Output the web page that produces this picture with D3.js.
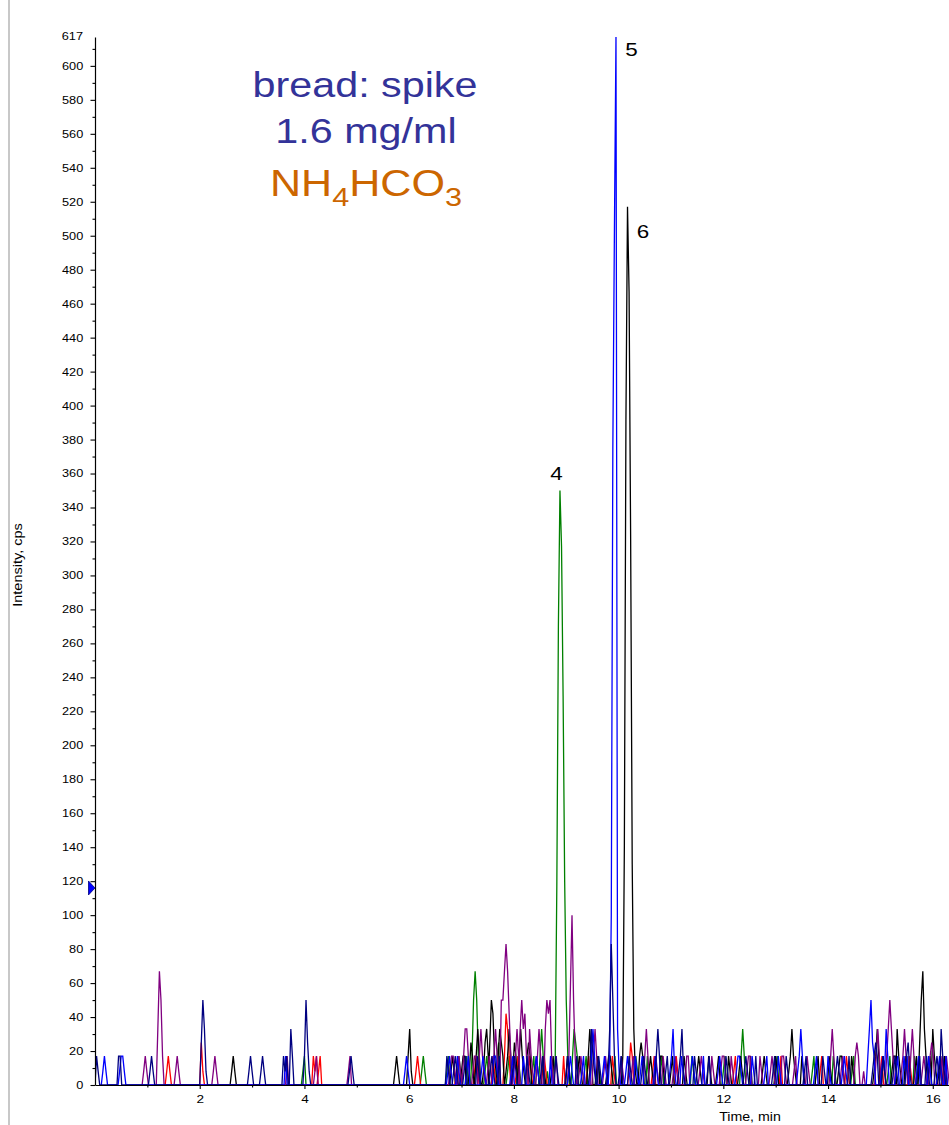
<!DOCTYPE html>
<html>
<head>
<meta charset="utf-8">
<script src="https://cdn.jsdelivr.net/npm/d3@7"></script>
<style>
  html, body { margin: 0; padding: 0; background: #ffffff; }
  svg { display: block; }
</style>
</head>
<body>
<svg id="chart" width="949" height="1125"></svg>
<script>
// ---------------------------------------------------------------
// Overlaid MRM ion chromatograms (intensity in cps vs time in min).
// Each trace is a list of runs: [start time, [consecutive samples]].
// Samples are one scan cycle apart; outside the runs a trace sits at 0.
// ---------------------------------------------------------------
const SCAN_STEP = 0.03; // min between consecutive samples

const traceNavy = [
  [0.03, [17, 8]], [0.45, [17, 17]], [1.05, [8, 17, 8]], [2.03, [25, 50, 33, 8]],
  [2.94, [8, 17, 8]], [3.17, [8, 17, 8]], [3.60, [17, 8, 17]], [3.74, [33, 17]],
  [4.00, [17, 50, 25, 8]], [4.86, [8, 17, 8]],
  [6.72, [17, 8]], [6.85, [8, 17, 8]], [7.05, [8, 17]], [7.30, [17, 8]], [7.55, [8, 17, 8]],
  [7.72, [17]], [7.98, [8, 17, 8]], [8.25, [17, 8]], [8.52, [8, 17]], [8.80, [17, 8]],
  [9.00, [8, 17, 8]], [9.20, [17]], [9.45, [8, 33, 17, 8]], [9.62, [17, 8]],
  [9.80, [8, 33, 83, 50, 17]], [10.02, [8, 17]], [10.20, [17, 8]], [10.45, [8, 17, 8]],
  [10.72, [17, 33, 17]], [10.90, [8, 17]], [11.15, [8, 17, 33, 8]], [11.45, [17, 8]],
  [11.70, [8, 17]], [12.05, [17, 8]], [12.40, [8, 17, 8]], [12.62, [17]], [12.95, [8, 17]],
  [13.20, [17, 8]], [13.55, [8, 17]], [13.90, [17, 8]], [14.15, [8, 17, 8]], [14.40, [17]],
  [14.85, [8, 17, 25, 17]], [15.05, [17, 8]], [15.25, [8, 17, 8]], [15.50, [17, 25, 8]],
  [15.72, [8, 17]], [15.88, [17, 8]], [16.05, [8, 17, 8]], [16.16, [33, 17, 8]]
];

const traceBlue = [
  [0.15, [8, 17, 8]], [0.47, [8, 17, 17, 8]], [3.64, [17]], [5.92, [8, 17, 8]],
  [6.74, [8, 17, 8]], [6.92, [17, 8]], [7.10, [8, 17]], [7.38, [8, 17, 8]], [7.62, [17, 17, 8]],
  [7.95, [8, 17]], [8.18, [17, 8]], [8.40, [8, 17, 8]], [8.70, [17]], [9.05, [8, 17, 8]],
  [9.30, [8, 17]], [9.48, [17, 33, 17]], [9.70, [8, 17, 8]],
  [9.83, [17, 100, 375, 503, 617, 33, 8]],
  [10.14, [8, 17, 8]], [10.32, [17, 8]], [10.42, [8, 17]], [10.70, [17, 8]],
  [10.98, [8, 17, 33, 8]], [11.20, [17, 8]], [11.38, [8, 17, 8]], [11.62, [17]],
  [11.90, [8, 17, 8]], [12.25, [8, 17, 17, 8]], [12.55, [17, 8]], [12.80, [8, 17]],
  [13.05, [17, 8]], [13.42, [8, 17, 33, 17]], [13.75, [8, 17]], [14.00, [17, 8]],
  [14.28, [8, 17, 8]], [14.76, [17, 33, 50, 25, 17]], [15.02, [8, 17, 8, 33, 17]],
  [15.30, [8, 17]], [15.45, [17, 8, 17]], [15.70, [8, 17]], [15.92, [17, 8]],
  [16.10, [8, 17, 8]], [16.25, [17]]
];

const tracePurple = [
  [0.93, [8, 17, 8]], [1.20, [33, 67, 50, 17]], [1.54, [8, 17, 8]], [2.26, [8, 17, 8]],
  [3.67, [17]], [4.20, [8, 17]], [4.84, [8, 17]],
  [6.78, [8, 17, 17, 8]], [6.95, [17, 8]], [7.04, [17, 33, 33, 17]], [7.22, [8, 17, 17]],
  [7.34, [17, 33, 17, 8]], [7.50, [8, 17, 8]], [7.62, [17, 33, 17]],
  [7.76, [50, 50, 67, 83, 67, 42, 17]], [8.00, [8, 17, 33, 17]], [8.12, [33, 50, 33, 42, 17]],
  [8.30, [33, 17, 8]], [8.45, [17, 33, 17]], [8.60, [33, 50, 42, 50, 17]], [8.78, [8, 17]],
  [9.05, [17, 58, 100, 50, 17]], [9.25, [8, 17, 8]], [9.52, [17, 33, 17]], [9.72, [8, 17, 8]],
  [10.05, [17, 8]], [10.25, [8, 17]], [10.50, [17, 33, 17]], [10.68, [8, 17, 8]],
  [10.85, [17, 8]], [11.05, [8, 17, 8]], [11.30, [17, 17]], [11.55, [8, 17, 8]],
  [11.78, [17, 8]], [11.95, [8, 17, 17, 8]], [12.15, [17, 8]], [12.45, [8, 17, 17]],
  [12.70, [17, 8]], [12.90, [8, 17, 8]], [13.12, [17, 17, 8]], [13.35, [8, 17]],
  [13.60, [17, 8]], [14.05, [17, 33, 17]], [14.25, [8, 17]], [14.52, [17, 25, 17]],
  [14.68, [8]], [14.92, [17, 33, 17]], [15.12, [17, 33, 50, 33, 17]], [15.40, [8, 17, 33, 17]],
  [15.58, [17, 33, 17]], [15.80, [8, 17, 8]], [15.95, [17, 25, 17]], [16.15, [8, 17]],
  [16.26, [17, 8]]
];

const traceRed = [
  [1.37, [8, 17, 8]], [2.03, [25, 8]], [4.17, [17, 8, 17]], [4.27, [8, 17]], [6.13, [8, 17, 8]],
  [6.90, [8, 17]], [7.25, [8, 17, 8]], [7.60, [17, 8]], [7.82, [17, 42, 33, 17]],
  [8.05, [8, 17]], [8.30, [17, 8]], [8.55, [8, 17, 8]], [8.95, [17]], [9.40, [8, 17]],
  [9.88, [17, 8]], [10.20, [8, 25, 17]], [10.65, [8, 17]], [11.10, [17, 8]], [12.20, [8, 17]],
  [13.10, [17]], [13.85, [8, 17]], [14.35, [17, 8]], [15.00, [8, 17]], [15.55, [17, 8]],
  [16.20, [8, 17]]
];

const traceGreen = [
  [3.97, [8, 17]], [6.24, [8, 17, 8]],
  [6.72, [8, 17]], [6.92, [8, 17, 8]], [7.10, [17]], [7.20, [17, 50, 67, 50, 17]],
  [7.45, [8, 17, 8]], [7.68, [17, 25]], [7.88, [8, 17, 8]], [8.08, [17, 8]], [8.35, [8, 17]],
  [8.50, [17, 33, 17]], [8.64, [8]],
  [8.79, [17, 117, 270, 350, 317, 229, 120, 50, 17]],
  [9.12, [17, 33, 25, 17]], [9.35, [8, 17]], [9.60, [17, 8]], [9.90, [8, 17]],
  [10.30, [8, 17, 8]], [10.55, [17]], [10.80, [8, 17]], [11.40, [17, 8]], [12.00, [8, 17]],
  [12.34, [17, 33, 17]], [13.00, [8, 17]], [13.70, [8, 17]], [14.10, [17, 8]],
  [14.46, [8, 17]], [15.15, [8, 17]], [15.65, [17, 8]]
];

const traceBlack = [
  [2.61, [8, 17, 8]], [5.73, [8, 17, 8]], [5.98, [17, 33, 8]],
  [6.80, [8, 17, 8]], [7.00, [8, 17, 17]], [7.15, [8, 25, 17]], [7.28, [17, 33, 17]],
  [7.42, [8, 25, 33, 17]], [7.54, [25, 50, 42, 17, 8]], [7.70, [17, 33, 25, 17]],
  [7.85, [8, 17, 33, 17]], [7.98, [8, 25, 17]], [8.10, [17, 33, 17, 8]], [8.25, [17, 25, 17]],
  [8.40, [8, 17, 8]], [8.55, [17, 8]], [8.72, [8, 17]], [9.02, [17, 8]], [9.22, [8, 17, 8]],
  [9.42, [17, 33, 17]], [9.58, [8, 17]], [9.78, [8, 17, 17, 8]],
  [10.08, [17, 141, 392, 517, 467, 321, 130, 33, 8]],
  [10.40, [17, 25, 17]], [10.58, [8, 17, 8]], [10.80, [17, 17, 8]], [11.00, [8, 17]],
  [11.25, [17, 8]], [11.50, [8, 17, 8]], [11.72, [17, 8]], [11.88, [8, 17]], [12.10, [17, 8]],
  [12.30, [8, 17, 8]], [12.52, [17]], [12.75, [8, 17, 8]], [13.00, [17, 8]],
  [13.25, [8, 17, 33, 17, 8]], [13.50, [17, 8]], [13.78, [8, 17]], [14.02, [17, 8]],
  [14.20, [8, 17, 17, 8]], [14.45, [17, 8]], [14.88, [8, 17, 33, 17]], [15.05, [17, 8]],
  [15.22, [8, 17, 17]], [15.32, [33, 17, 8]], [15.48, [17, 8]], [15.66, [8, 17]],
  [15.75, [25, 50, 67, 33, 17]], [15.92, [8, 17]], [16.00, [33, 17, 8]], [16.12, [8, 17]],
  [16.22, [17, 8]]
];

// drawing order: later traces sit on top
const traces = [
  { runs: traceGreen,  color: "#008000" },
  { runs: traceRed,    color: "#ff0000" },
  { runs: traceBlack,  color: "#000000" },
  { runs: tracePurple, color: "#800080" },
  { runs: traceBlue,   color: "#0000ff" },
  { runs: traceNavy,   color: "#000080" }
];

// peak labels: [peak number, retention time, apex intensity]
const peakLabels = [
  ["4", 8.88, 350],
  ["5", 9.95, 617],
  ["6", 10.17, 517]
];

const yMajorTicks = [0, 20, 40, 60, 80, 100, 120, 140, 160, 180, 200, 220, 240, 260, 280, 300,
  320, 340, 360, 380, 400, 420, 440, 460, 480, 500, 520, 540, 560, 580, 600];
const yMinorTicks = [10, 30, 50, 70, 90, 110, 130, 150, 170, 190, 210, 230, 250, 270, 290, 310,
  330, 350, 370, 390, 410, 430, 450, 470, 490, 510, 530, 550, 570, 590, 610];
const xMajorTicks = [2, 4, 6, 8, 10, 12, 14, 16];
const xMinorTicks = [1, 3, 5, 7, 9, 11, 13, 15];
const yMax = 617;
const xMax = 16.31;
const thresholdMarker = 116; // cps, arrow on the intensity axis

// ---------------------------------------------------------------
const FONT = "'Liberation Sans', Arial, Helvetica, sans-serif";
const STRETCH = 1.18; // glyphs are drawn a little wide

const svg = d3.select("#chart");
const plot = { left: 95, right: 949, top: 37, bottom: 1085 };

const x = d3.scaleLinear().domain([0, xMax]).range([plot.left, plot.right]);
const y = d3.scaleLinear().domain([0, yMax]).range([plot.bottom, plot.top]);

// window frame edge on the left
svg.append("line")
  .attr("x1", 9).attr("x2", 9).attr("y1", 0).attr("y2", 1125)
  .attr("stroke", "#c8c8c8").attr("stroke-width", 2);

svg.append("clipPath").attr("id", "plotClip")
  .append("rect")
  .attr("x", plot.left).attr("y", plot.top - 1)
  .attr("width", plot.right - plot.left).attr("height", plot.bottom - plot.top + 2);

// expand runs into a polyline resting on the baseline between runs
function toPoints(runs) {
  const pts = [];
  runs.forEach(([t0, vals]) => {
    pts.push([t0 - SCAN_STEP, 0]);
    vals.forEach((v, i) => pts.push([t0 + i * SCAN_STEP, v]));
    pts.push([t0 + vals.length * SCAN_STEP, 0]);
  });
  return pts;
}

const line = d3.line().x(d => x(d[0])).y(d => y(d[1]));

const traceLayer = svg.append("g").attr("clip-path", "url(#plotClip)");
traces.forEach(tr => {
  traceLayer.append("path")
    .datum(toPoints(tr.runs))
    .attr("d", line)
    .attr("fill", "none")
    .attr("stroke", tr.color)
    .attr("stroke-width", 1.3)
    .attr("stroke-linejoin", "miter");
});

// ---- axes ----
const yAxis = svg.append("g").attr("transform", `translate(${plot.left},0)`)
  .call(d3.axisLeft(y).tickValues(yMajorTicks).tickSize(4.5).tickSizeOuter(0).tickPadding(5.5));
svg.append("g").attr("transform", `translate(${plot.left},0)`)
  .call(d3.axisLeft(y).tickValues(yMinorTicks).tickSize(2.5).tickSizeOuter(0).tickFormat(""))
  .select(".domain").remove();

const xAxis = svg.append("g").attr("transform", `translate(0,${plot.bottom})`)
  .call(d3.axisBottom(x).tickValues(xMajorTicks).tickSize(4).tickSizeOuter(0).tickPadding(6));
svg.append("g").attr("transform", `translate(0,${plot.bottom})`)
  .call(d3.axisBottom(x).tickValues(xMinorTicks).tickSize(2.5).tickSizeOuter(0).tickFormat(""))
  .select(".domain").remove();

svg.selectAll(".domain").attr("stroke", "#000").attr("stroke-width", 1.2);
svg.selectAll(".tick line").attr("stroke", "#000").attr("stroke-width", 1.1);

yAxis.selectAll(".tick text")
  .attr("font-family", FONT).attr("font-size", 10.8).attr("fill", "#000")
  .attr("transform", `scale(${STRETCH},1)`);
xAxis.selectAll(".tick text")
  .attr("font-family", FONT).attr("font-size", 11.5).attr("fill", "#000")
  .attr("transform", `scale(${STRETCH},1)`);

// top-of-scale label
svg.append("text")
  .attr("transform", `translate(83,${y(yMax)}) scale(${STRETCH},1)`)
  .attr("text-anchor", "end").attr("dy", "0.32em")
  .attr("font-family", FONT).attr("font-size", 10.8)
  .text(String(yMax));

// axis titles
svg.append("text")
  .attr("transform", `translate(750,1121) scale(${STRETCH},1)`)
  .attr("text-anchor", "middle")
  .attr("font-family", FONT).attr("font-size", 12)
  .text("Time, min");

svg.append("text")
  .attr("transform", `translate(22,565) rotate(-90) scale(${STRETCH},1)`)
  .attr("text-anchor", "middle")
  .attr("font-family", FONT).attr("font-size", 12.3)
  .text("Intensity, cps");

// threshold arrow on the y axis
const ty = y(thresholdMarker);
svg.append("path")
  .attr("d", `M${plot.left - 6.5},${ty - 7} L${plot.left},${ty} L${plot.left - 6.5},${ty + 7} Z`)
  .attr("fill", "#0000ff").attr("stroke", "#000080").attr("stroke-width", 0.8);

// peak numbers
const labelOffset = { "4": [-3.5, -11], "5": [15.5, 19], "6": [15.5, 31] };
peakLabels.forEach(([lab, t, v]) => {
  const [dx, dy] = labelOffset[lab];
  svg.append("text")
    .attr("transform", `translate(${x(t) + dx},${y(v) + dy}) scale(${STRETCH},1)`)
    .attr("text-anchor", "middle")
    .attr("font-family", FONT).attr("font-size", 19)
    .attr("fill", "#000")
    .text(lab);
});

// sample annotation
const note = svg.append("g").attr("font-family", FONT).attr("text-anchor", "middle");
note.append("text")
  .attr("transform", `translate(365,96.5) scale(${STRETCH},1)`)
  .attr("font-size", 35).attr("fill", "#333399")
  .text("bread: spike");
note.append("text")
  .attr("transform", `translate(366,143) scale(${STRETCH},1)`)
  .attr("font-size", 35).attr("fill", "#333399")
  .text("1.6 mg/ml");
const salt = note.append("text")
  .attr("transform", `translate(366,196) scale(${STRETCH},1)`)
  .attr("font-size", 36.5).attr("fill", "#cc6600");
salt.append("tspan").text("NH");
salt.append("tspan").attr("dy", 10).attr("font-size", 26).text("4");
salt.append("tspan").attr("dy", -10).text("HCO");
salt.append("tspan").attr("dy", 10).attr("font-size", 26).text("3");
</script>
</body>
</html>
